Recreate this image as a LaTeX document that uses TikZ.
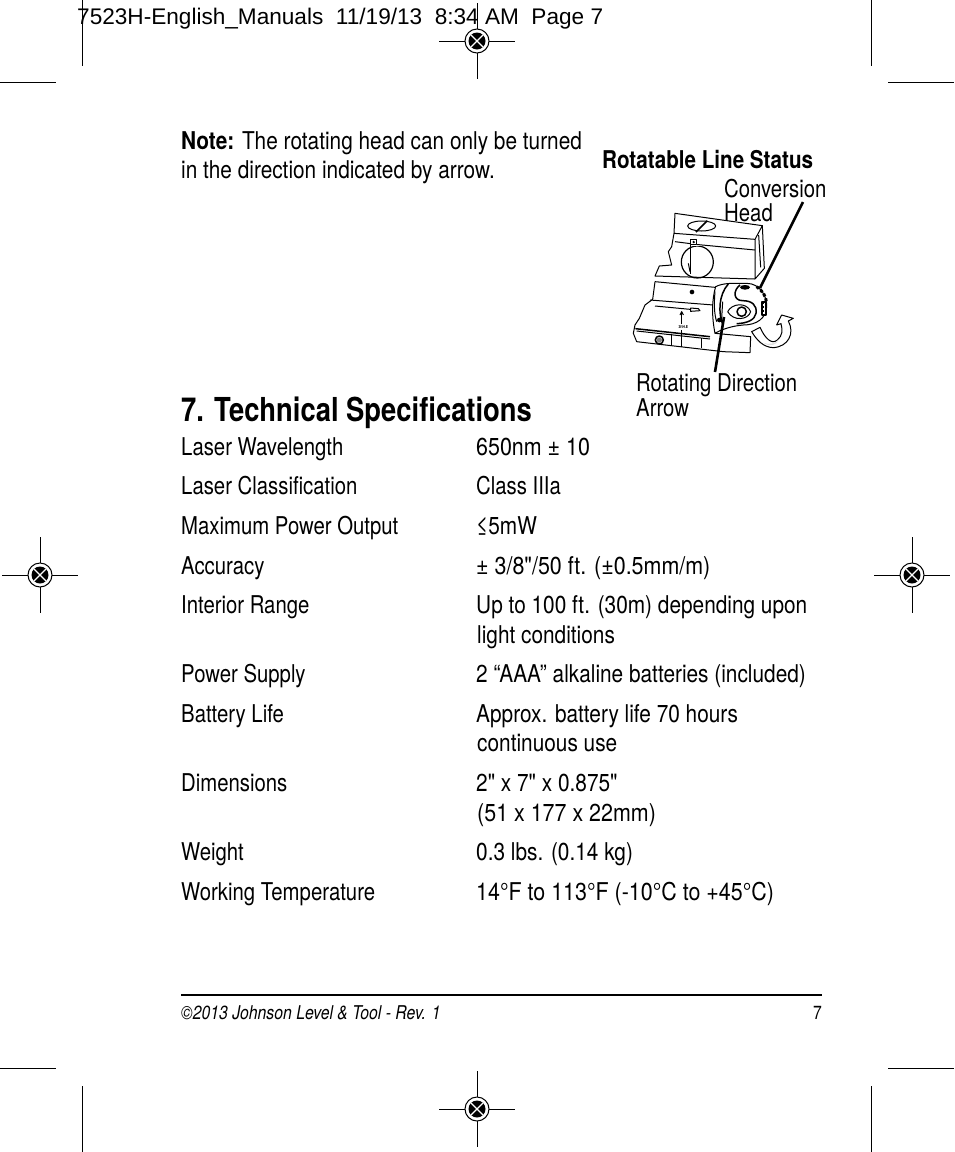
\documentclass[tikz,border=0pt]{standalone}
\usepackage{fontspec}
\setmainfont[FakeStretch=0.83,Ligatures=TeXOff]{TeX Gyre Heros}
\newfontfamily\slugfont{Liberation Sans}
\tikzset{
    body/.style={anchor=base west,inner sep=0pt,font=\fontsize{24.5}{28}\selectfont},
    bodywide/.style={body,font=\fontsize{24.5}{28}\selectfont\addfontfeature{FakeStretch=0.85}},
    bodywider/.style={body,font=\fontsize{24.5}{28}\selectfont\addfontfeature{FakeStretch=0.875}},
    bodybold/.style={body,font=\fontsize{24.5}{28}\selectfont\bfseries\addfontfeature{FakeStretch=0.842}},
    crop/.style={line width=1pt},
    leader/.style={line width=2.6pt},
    outline/.style={line width=1pt,line join=round},
}
\begin{document}
\begin{tikzpicture}[x=1pt,y=-1pt]
    \useasboundingbox (0,0) rectangle (954,1152);
    % crop marks
    \foreach \cx/\cya/\cyb in {82/0/66,871/0/66,82/1086/1152,871/1086/1152}
        \draw[crop] (\cx,\cya) -- (\cx,\cyb);
    \foreach \cy/\cxa/\cxb in {82/0/56,82/888/954,1068/0/56,1068/888/954}
        \draw[crop] (\cxa,\cy) -- (\cxb,\cy);
    % registration marks
    \foreach \rx/\ry in {477/41,477/1109,40/575,912/575} {
        \draw[crop] (\rx-38,\ry) -- (\rx+38,\ry);
        \draw[crop] (\rx,\ry-38) -- (\rx,\ry+38);
        \draw[crop,fill=white] (\rx,\ry) circle (12);
        \fill (\rx,\ry) circle (8.5);
        \draw[white,line width=1.2pt] (\rx-6,\ry-6) -- (\rx+6,\ry+6);
        \draw[white,line width=1.2pt] (\rx-6,\ry+6) -- (\rx+6,\ry-6);
    }
    \node[anchor=base west,inner sep=0pt,font=\slugfont\fontsize{22.6}{26}\selectfont] (slug) at (77,24)
        {7523H-English\_Manuals\ \ 11/19/13\ \ 8:34 AM\ \ Page 7};
    % note
    \node[bodywide] (notea) at (181,149) {\textbf{Note:} The rotating head can only be turned};
    \node[bodywide] (noteb) at (181,178) {in the direction indicated by arrow.};
    \node[bodybold] (status) at (602,168) {Rotatable Line Status};
    \node[body] (conversion) at (724,197) {Conversion};
    \node[body] (head) at (724,221) {Head};
    \node[body] (rotating) at (636,391) {Rotating Direction};
    \node[body] (arrowlabel) at (636,416) {Arrow};
    % laser drawing
    \begin{scope}[shift={(600,170)},scale=1/3,outline]
        \draw (225,130) -- (487,167) -- (465,208) -- (222,190) -- cycle;
        \draw (487,167) -- (493,295) -- (465,327) -- (465,208);
        \draw (222,190) -- (215,230) -- (205,245) -- (215,285) -- (178,288) -- (165,318) -- (465,327);
        \draw (275,222) -- (465,240);
        \draw (225,215) -- (272,221);
        \draw (476,195) -- (482,292);
        \draw (305,168) ellipse (42 and 15);
        \draw[line width=1.5pt] (288,186) -- (322,152);
        \draw[fill=white] (272,208) rectangle (290,224);
        \fill (281,216) circle (4);
        \begin{scope}
            \clip (235,229) rectangle (350,330);
            \draw[line width=1.2pt] (292,276) circle (48);
        \end{scope}
        \draw (272,226) -- (272,312);
        \draw (265,280) -- (270,305);
        \draw (165,335) -- (345,352);
        \draw (165,335) -- (158,388) -- (135,405) -- (118,445) -- (105,465) -- (100,490) -- (110,515) -- (370,545) -- (450,548) -- (452,500) -- (345,490);
        \draw (150,390) -- (340,405);
        \draw (165,408) -- (270,418);
        \draw[line width=1.5pt] (106,476) -- (330,500);
        \draw (110,483) -- (330,507);
        \fill (276,366) circle (7);
        \draw[line width=1.5pt] (178,510) circle (12);
        \fill[gray] (178,510) circle (8);
        \draw (245,425) -- (245,462);
        \draw (245,480) -- (245,530);
        \draw (240,435) -- (245,425) -- (250,435);
        \draw (213,492) -- (213,525);
        \draw (305,505) -- (305,535);
        \draw (272,414) -- (295,416) -- (300,422) -- (272,424) -- cycle;
        \node[inner sep=0pt,font=\fontsize{4}{4}\selectfont\bfseries] (rating) at (250,470) {3ftH.E};
        % head
        \draw[fill=white] (347,350) .. controls (370,338) and (400,340) .. (440,340) .. controls (480,340) and (502,380) .. (500,410) .. controls (498,445) and (470,465) .. (430,465) .. controls (395,468) and (365,478) .. (345,490) .. controls (335,440) and (335,390) .. (347,350) -- cycle;
        \draw[line width=1.5pt] (385,342) .. controls (355,375) and (355,430) .. (368,462);
        \draw (345,365) .. controls (342,400) and (342,430) .. (350,455);
        \draw (368,395) -- (365,445);
        \draw[line width=1.5pt] (420,345) .. controls (398,362) and (400,392) .. (428,392) .. controls (455,392) and (472,405) .. (468,430) .. controls (465,450) and (440,460) .. (410,461);
        \draw (383,425) .. controls (395,400) and (440,395) .. (452,425) .. controls (445,450) and (400,455) .. (383,425) -- cycle;
        \draw[line width=1.5pt] (425,425) circle (14);
        \fill (435,352) ellipse (15 and 7);
        \draw[line width=3pt,dash pattern=on 3pt off 2pt] (470,350) .. controls (488,362) and (498,380) .. (499,395);
        \draw[line width=2pt,fill=white] (485,395) rectangle (498,435);
        \draw[line width=1pt,dash pattern=on 2pt off 2pt] (491,397) -- (491,433);
        \fill (358,450) circle (7);
        % rotating arrow
        \draw[fill=white] (455,485) -- (480,472) .. controls (495,505) and (515,525) .. (532,510) .. controls (548,497) and (548,480) .. (543,461) -- (530,465) -- (545,435) -- (580,445) -- (565,453) .. controls (585,490) and (565,530) .. (520,533) .. controls (490,532) and (470,510) .. (455,485) -- cycle;
        \fill[gray!25] (490,518) .. controls (505,525) and (525,522) .. (535,510) .. controls (530,525) and (510,532) .. (490,518) -- cycle;
    \end{scope}
    % leaders
    \coordinate (conversiontip) at (760,288);
    \coordinate (conversionend) at (803,202);
    \coordinate (arrowtip) at (724,317);
    \coordinate (arrowend) at (715,372);
    \draw[leader] (conversionend) -- (conversiontip);
    \draw[leader] (arrowend) -- (arrowtip);
    % specifications
    \node[anchor=base west,inner sep=0pt,font=\fontsize{33}{38}\selectfont\bfseries] (title) at (181,421) {7. Technical Specifications};
    \node[body] (wavelengthname) at (181,455) {Laser Wavelength};
    \node[bodywider] (wavelengthvalue) at (476,455) {650nm ± 10};
    \node[body] (classname) at (181,494) {Laser Classification};
    \node[body] (classvalue) at (476,494) {Class IIIa};
    \node[body] (powername) at (181,534) {Maximum Power Output};
    \node[bodywide] (powervalue) at (476,534) {≤5mW};
    \node[body] (accuracyname) at (181,574) {Accuracy};
    \node[bodywider] (accuracyvalue) at (476,574) {± 3/8"/50 ft. (±0.5mm/m)};
    \node[body] (rangename) at (181,613) {Interior Range};
    \node[bodywide] (rangevalue) at (476,613) {Up to 100 ft. (30m) depending upon};
    \node[bodywide] (rangemore) at (477,643) {light conditions};
    \node[body] (supplyname) at (181,682) {Power Supply};
    \node[bodywide] (supplyvalue) at (476,682) {2 “AAA” alkaline batteries (included)};
    \node[body] (lifename) at (181,722) {Battery Life};
    \node[bodywide] (lifevalue) at (476,722) {Approx. battery life 70 hours};
    \node[bodywide] (lifemore) at (477,751) {continuous use};
    \node[body] (sizename) at (181,791) {Dimensions};
    \node[bodywide] (sizevalue) at (476,791) {2" x 7" x 0.875"};
    \node[bodywider] (sizemore) at (477,821) {(51 x 177 x 22mm)};
    \node[body] (weightname) at (181,860) {Weight};
    \node[bodywide] (weightvalue) at (476,860) {0.3 lbs. (0.14 kg)};
    \node[body] (tempname) at (181,900) {Working Temperature};
    \node[bodywider] (tempvalue) at (476,900) {14°F to 113°F (-10°C to +45°C)};
    % footer
    \draw[line width=2pt] (181,995) -- (822,995);
    \node[anchor=base west,inner sep=0pt,font=\fontsize{19}{22}\selectfont\itshape] (copyright) at (181,1019) {©2013 Johnson Level \& Tool - Rev. 1};
    \node[anchor=base east,inner sep=0pt,font=\fontsize{19}{22}\selectfont] (pagenum) at (822,1019) {7};
\end{tikzpicture}
\end{document}
